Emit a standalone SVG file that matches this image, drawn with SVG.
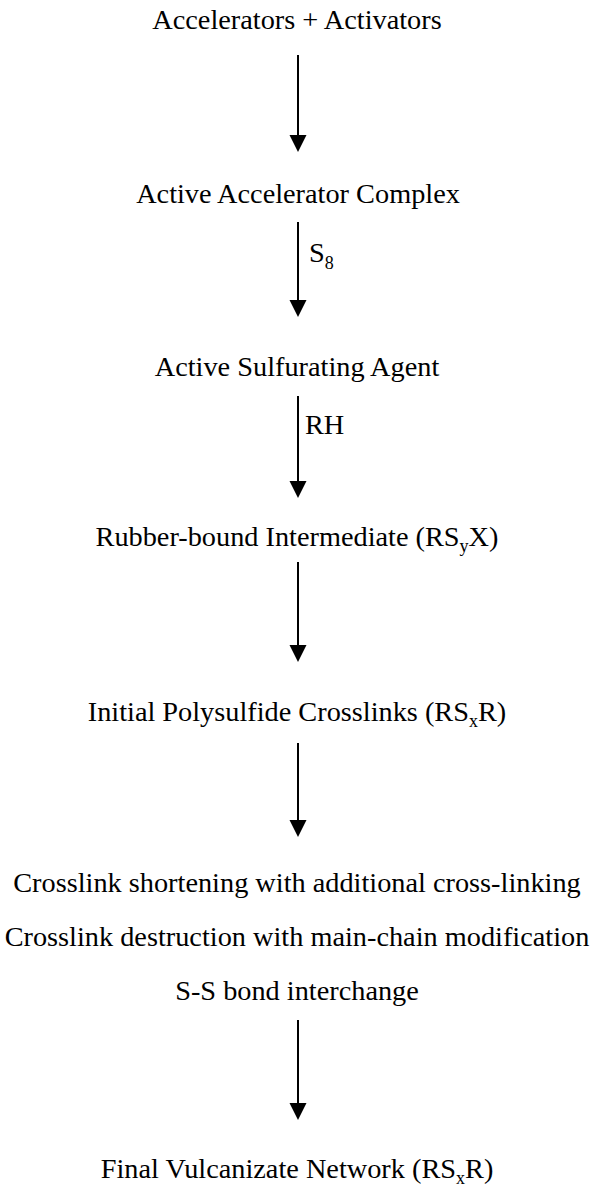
<svg xmlns="http://www.w3.org/2000/svg" width="594" height="1191" viewBox="0 0 594 1191">
<style>
text{font-family:'Liberation Serif','Times New Roman',serif;font-size:28.3px;fill:#000;text-anchor:middle}
.lbl{text-anchor:start}
.sub{font-size:18px}
.shaft{stroke:#000;stroke-width:2;fill:none}
.head{fill:#000}
</style>
<rect width="594" height="1191" fill="#fff"/>
<g id="n1"><text x="297" y="29">Accelerators + Activators</text></g>
<g id="n2"><text x="298" y="203">Active Accelerator Complex</text></g>
<g id="n3"><text x="297" y="376">Active Sulfurating Agent</text></g>
<g id="n4"><text x="297" y="546">Rubber-bound Intermediate (RS<tspan class="sub" dy="6">y</tspan><tspan dy="-6">X)</tspan></text></g>
<g id="n5"><text x="297" y="721">Initial Polysulfide Crosslinks (RS<tspan class="sub" dy="6">x</tspan><tspan dy="-6">R)</tspan></text></g>
<g id="n6">
<text x="297" y="892">Crosslink shortening with additional cross-linking</text>
<text x="297" y="946">Crosslink destruction with main-chain modification</text>
<text x="297" y="1000">S-S bond interchange</text>
</g>
<g id="n7"><text x="297" y="1178">Final Vulcanizate Network (RS<tspan class="sub" dy="6">x</tspan><tspan dy="-6">R)</tspan></text></g>
<g id="connectors">
<g>
<path class="shaft" d="M298,55 V136"/><path class="head" d="M289.5,135 L306.5,135 L298,152 Z"/>
</g>
<g>
<path class="shaft" d="M298,222 V301"/><path class="head" d="M289.5,300 L306.5,300 L298,317 Z"/>
<text class="lbl" x="309" y="262">S<tspan class="sub" dy="7">8</tspan></text>
</g>
<g>
<path class="shaft" d="M298,396 V482"/><path class="head" d="M289.5,481 L306.5,481 L298,498 Z"/>
<text class="lbl" x="305" y="434">RH</text>
</g>
<g>
<path class="shaft" d="M298,562 V646"/><path class="head" d="M289.5,645 L306.5,645 L298,662 Z"/>
</g>
<g>
<path class="shaft" d="M298,743 V821"/><path class="head" d="M289.5,820 L306.5,820 L298,837 Z"/>
</g>
<g>
<path class="shaft" d="M298,1020 V1104"/><path class="head" d="M289.5,1103 L306.5,1103 L298,1120 Z"/>
</g>
</g>
</svg>
